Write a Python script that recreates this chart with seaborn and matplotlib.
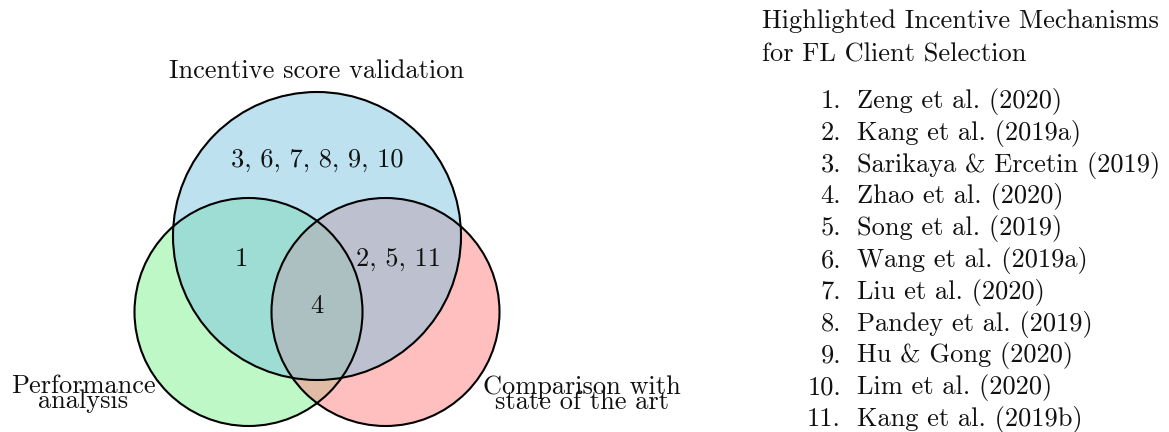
import matplotlib
matplotlib.use("Agg")
import matplotlib.pyplot as plt
import seaborn as sns
from matplotlib.patches import Circle

# sets and the numbers placed in each region
set_labels = ["Incentive score validation", "Performance\nanalysis", "Comparison with\nstate of the art"]
only_validation = "3, 6, 7, 8, 9, 10"
validation_and_performance = "1"
validation_and_comparison = "2, 5, 11"
all_three = "4"

list_title = "Highlighted Incentive Mechanisms\nfor FL Client Selection"
references = [
    "Zeng et al. (2020)",
    "Kang et al. (2019a)",
    "Sarikaya & Ercetin (2019)",
    "Zhao et al. (2020)",
    "Song et al. (2019)",
    "Wang et al. (2019a)",
    "Liu et al. (2020)",
    "Pandey et al. (2019)",
    "Hu & Gong (2020)",
    "Lim et al. (2020)",
    "Kang et al. (2019b)",
]

sns.set_theme(style="white")
plt.rcParams["font.family"] = ["cmr10", "DejaVu Serif"]
plt.rcParams["axes.unicode_minus"] = False
FS = 19

fig = plt.figure(figsize=(11.69, 4.32), dpi=100)
ax = fig.add_axes([0, 0, 1, 1])
ax.set_xlim(0, 1169)
ax.set_ylim(432, 0)
ax.axis("off")

# circle layout (pixel space): performance, comparison, validation
circles = [
    ((248.5, 312), 114, (0.506, 0.953, 0.569)),
    ((385.5, 312), 114, (1.0, 0.506, 0.506)),
    ((317, 236), 144, (0.49, 0.77, 0.88)),
]
for (cx, cy), r, col in circles:
    ax.add_patch(Circle((cx, cy), r, facecolor=col, alpha=0.5, edgecolor="none", zorder=1))
for (cx, cy), r, col in circles:
    ax.add_patch(Circle((cx, cy), r, facecolor="none", edgecolor="black", linewidth=1.5, zorder=2))

kw = dict(fontsize=FS, ha="center", va="baseline", color="#111111", zorder=3)
ax.text(317, 78, set_labels[0], **kw)
ax.text(83, 408, set_labels[1], linespacing=0.56, multialignment="center", **kw)
ax.text(582, 409, set_labels[2], linespacing=0.56, multialignment="center", **kw)

ax.text(317, 167, only_validation, **kw)
ax.text(241, 266, validation_and_performance, **kw)
ax.text(399, 266, validation_and_comparison, **kw)
ax.text(317, 313, all_three, **kw)

title_lines = list_title.split("\n")
ax.text(762, 28, title_lines[0], fontsize=FS, ha="left", va="baseline", color="#111111",
        wrap=False)
ax.text(762, 61, title_lines[1], fontsize=FS, ha="left", va="baseline", color="#111111")
for i, ref in enumerate(references):
    y = 108 + 31.8 * i
    ax.text(841, y, f"{i + 1}.", fontsize=FS, ha="right", va="baseline", color="#111111")
    ax.text(857, y, ref, fontsize=FS, ha="left", va="baseline", color="#111111")

fig.savefig("out.png", dpi=100)
